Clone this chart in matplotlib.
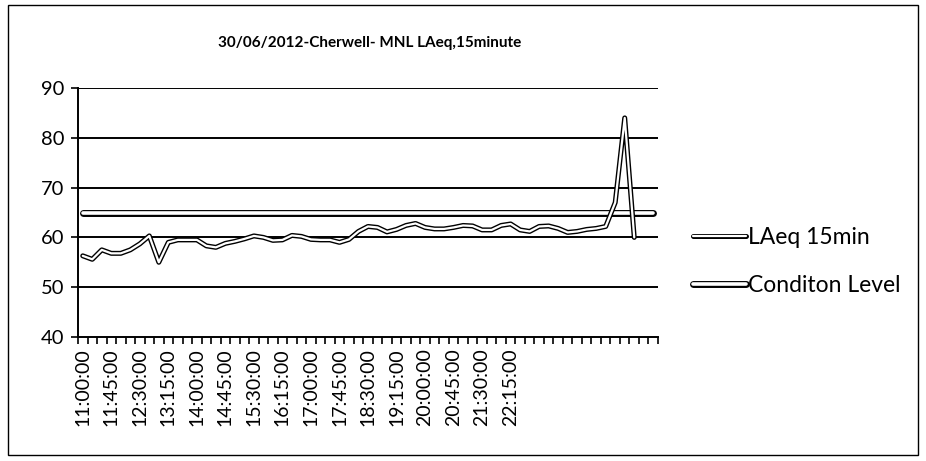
import matplotlib
matplotlib.use("Agg")
import matplotlib.pyplot as plt
import matplotlib.patheffects as pe
from matplotlib.patches import Rectangle

plt.rcParams['font.family'] = ['Lato', 'DejaVu Sans']

title = "30/06/2012-Cherwell- MNL LAeq,15minute"
n_categories = 61
tick_labels = ["11:00:00", "11:45:00", "12:30:00", "13:15:00", "14:00:00", "14:45:00",
               "15:30:00", "16:15:00", "17:00:00", "17:45:00", "18:30:00", "19:15:00",
               "20:00:00", "20:45:00", "21:30:00", "22:15:00"]
laeq = [56.3, 55.6, 57.5, 56.8, 56.8, 57.5, 58.7, 60.3, 55.0, 59.0,
        59.5, 59.5, 59.5, 58.3, 58.0, 58.8, 59.2, 59.7, 60.3, 60.0,
        59.4, 59.5, 60.4, 60.2, 59.6, 59.5, 59.5, 59.0, 59.6, 61.2,
        62.2, 62.0, 61.1, 61.6, 62.4, 62.8, 62.0, 61.7, 61.7, 62.0,
        62.4, 62.3, 61.5, 61.5, 62.4, 62.7, 61.5, 61.2, 62.2, 62.3,
        61.8, 61.0, 61.2, 61.6, 61.8, 62.2, 67.0, 84.0, 60.0]
condition = [65] * 61
yticks = [40, 50, 60, 70, 80, 90]

W, H = 926, 461
fig = plt.figure(figsize=(W / 100, H / 100), dpi=100)

# chart border (scanned frame)
fig.patches.append(Rectangle((8 / W, (H - 455) / H), (918 - 8) / W, (455 - 5) / H,
                             transform=fig.transFigure, fill=False,
                             edgecolor='black', linewidth=1.0))

ax = fig.add_axes([78 / W, (H - 337) / H, 580 / W, 249 / H])

x_laeq = list(range(len(laeq)))
x_cond = list(range(len(condition)))

ax.plot(x_cond, condition, color='white', linewidth=2.6, solid_joinstyle='round',
        solid_capstyle='round', label='Conditon Level', zorder=3,
        path_effects=[pe.Stroke(linewidth=5.0, foreground='black'), pe.Normal()])
ax.plot(x_laeq, laeq, color='white', linewidth=1.6, solid_joinstyle='round',
        solid_capstyle='round', label='LAeq 15min', zorder=4,
        path_effects=[pe.Stroke(linewidth=3.6, foreground='black'), pe.Normal()])

ax.set_xlim(-0.5, n_categories - 0.5)
ax.set_ylim(40, 90)
ax.set_yticks(yticks)
ax.set_yticklabels([str(v) for v in yticks])

# category labels every third category
label_pos = [3 * k for k in range(len(tick_labels))]
ax.set_xticks(label_pos)
ax.set_xticklabels(tick_labels, rotation=90)
ax.set_xticks([i - 0.5 for i in range(n_categories + 1)], minor=True)
ax.tick_params(axis='x', which='major', length=0, pad=8, labelsize=14)
ax.tick_params(axis='x', which='minor', length=5, width=1.2, direction='out', color='black')
ax.tick_params(axis='y', length=5, width=1.2, pad=5, labelsize=14.5)

for v in yticks[1:]:
    ax.axhline(v, color='black', linewidth=1.4, zorder=1)

for s in ['top', 'right']:
    ax.spines[s].set_visible(False)
for s in ['left', 'bottom']:
    ax.spines[s].set_linewidth(1.4)
    ax.spines[s].set_color('black')

fig.text(370 / W, (H - 43) / H, title, ha='center', va='center', fontsize=11,
         fontweight='bold')

handles, labels = ax.get_legend_handles_labels()
order = [1, 0]
leg = fig.legend([handles[i] for i in order], [labels[i] for i in order],
                 loc='center left', bbox_to_anchor=(684 / W, (H - 261.5) / H),
                 frameon=False, fontsize=16.5, handlelength=2.3, handletextpad=0.08,
                 labelspacing=1.2, borderaxespad=0)

fig.savefig("out.png", dpi=100)
